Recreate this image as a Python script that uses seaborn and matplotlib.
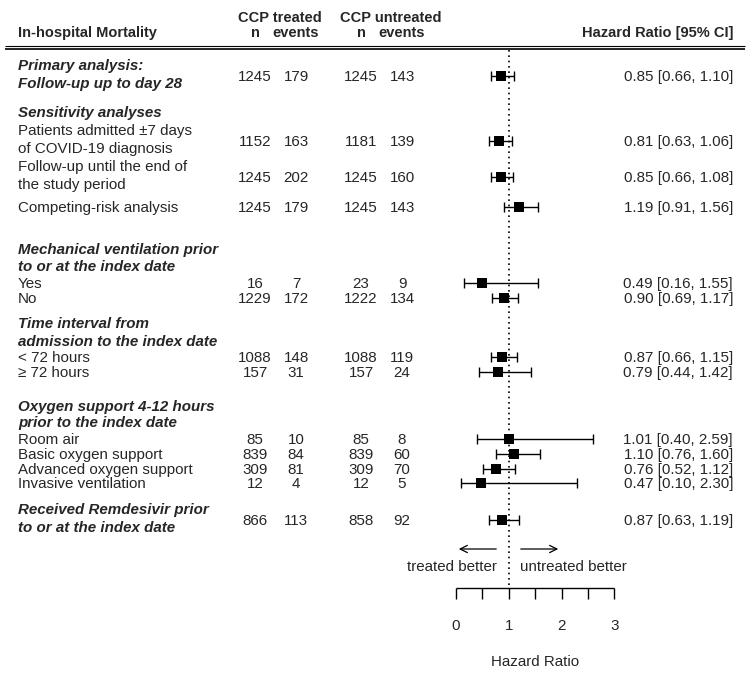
import numpy as np
import matplotlib
matplotlib.use("Agg")
import matplotlib.pyplot as plt
from matplotlib import font_manager
import seaborn as sns

# hazard ratios with 95% CI, one per row of the forest plot
hr = [0.85, 0.81, 0.85, 1.19, 0.49, 0.90, 0.87, 0.79, 1.01, 1.10, 0.76, 0.47, 0.87]
ci_low = [0.66, 0.63, 0.66, 0.91, 0.16, 0.69, 0.66, 0.44, 0.40, 0.76, 0.52, 0.10, 0.63]
ci_high = [1.10, 1.06, 1.08, 1.56, 1.55, 1.17, 1.15, 1.42, 2.59, 1.60, 1.12, 2.30, 1.19]

# counts per group
n_treated = [1245, 1152, 1245, 1245, 16, 1229, 1088, 157, 85, 839, 309, 12, 866]
events_treated = [179, 163, 202, 179, 7, 172, 148, 31, 10, 84, 81, 4, 113]
n_untreated = [1245, 1181, 1245, 1245, 23, 1222, 1088, 157, 85, 839, 309, 12, 858]
events_untreated = [143, 139, 160, 143, 9, 134, 119, 24, 8, 60, 70, 5, 92]

row_labels = [
    "Primary analysis:\nFollow-up up to day 28",
    "Patients admitted \u00b17 days\nof COVID-19 diagnosis",
    "Follow-up until the end of\nthe study period",
    "Competing-risk analysis",
    "Yes",
    "No",
    "< 72 hours",
    "\u2265 72 hours",
    "Room air",
    "Basic oxygen support",
    "Advanced oxygen support",
    "Invasive ventilation",
    "Received Remdesivir prior\nto or at the index date",
]
heading_rows = [0, 12]  # rows whose own label is a heading

section_labels = [
    "Sensitivity analyses",
    "Mechanical ventilation prior\nto or at the index date",
    "Time interval from\nadmission to the index date",
    "Oxygen support 4-12 hours\nprior to the index date",
]

hr_ticks = [0, 0.5, 1, 1.5, 2, 2.5, 3]
hr_ticklabels = [0, 1, 2, 3]

# layout (pixels from top of the 750x679 figure)
row_y = [77, 142, 178, 208, 284, 299, 358, 373, 440, 455, 470, 484, 521]
section_y = [113, 258.5, 333, 415]
X0, PX = 456, 52.8   # pixel of HR=0 and pixels per HR unit


def px(x):
    return (x - X0) / PX


sns.set_style("white")
plt.rcParams['font.family'] = ['Liberation Sans', 'DejaVu Sans']
FS = 10.9

names = {f.name for f in font_manager.fontManager.ttflist}
if 'Liberation Sans Narrow' in names:
    head_font = dict(family=['Liberation Sans Narrow', 'Liberation Sans'], fontsize=12.5, fontweight='bold')
else:
    head_font = dict(family=['Liberation Sans', 'DejaVu Sans'], fontsize=10.5, fontweight='bold')

fig = plt.figure(figsize=(7.5, 6.79), dpi=100)
ax = fig.add_axes([0, 0, 1, 1])


def multiline(x, y, text, gap=18, **kw):
    lines = text.split("\n")
    start = y - gap * (len(lines) - 1) / 2
    for i, line in enumerate(lines):
        ax.text(x, start + i * gap, line, va='center', **kw)


# header
ax.text(px(18), 33, "In-hospital Mortality", ha='left', va='center', **head_font)
ax.text(px(280), 18, "CCP treated", ha='center', va='center', **head_font)
ax.text(px(255), 33, "n", ha='center', va='center', **head_font)
ax.text(px(296), 33, "events", ha='center', va='center', **head_font)
ax.text(px(391), 18, "CCP untreated", ha='center', va='center', **head_font)
ax.text(px(361), 33, "n", ha='center', va='center', **head_font)
ax.text(px(402), 33, "events", ha='center', va='center', **head_font)
ax.text(px(733), 33, "Hazard Ratio [95% CI]", ha='right', va='center', **head_font)
ax.hlines([46, 48.5], px(5), px(745), color='black', lw=[0.8, 1.2])

# left column labels
for i, (lab, y) in enumerate(zip(row_labels, row_y)):
    style = dict(fontweight='bold', fontstyle='italic') if i in heading_rows else {}
    shift = -2 if "\n" in lab else 0
    multiline(px(18), y + shift, lab, ha='left', fontsize=FS, **style)
for lab, y in zip(section_labels, section_y):
    multiline(px(18), y, lab, gap=17, ha='left', fontsize=FS, fontweight='bold', fontstyle='italic')

# count columns
for col_x, vals in zip([255, 296, 361, 402], [n_treated, events_treated, n_untreated, events_untreated]):
    for v, y in zip(vals, row_y):
        ax.text(px(col_x), y, str(v), ha='center', va='center', fontsize=FS)

# estimate text
for h, lo, hi, y in zip(hr, ci_low, ci_high, row_y):
    ax.text(px(733), y, f"{h:.2f} [{lo:.2f}, {hi:.2f}]", ha='right', va='center', fontsize=FS)

# reference line at HR = 1
ax.vlines(1, 50, 588, color='black', lw=1.2, linestyles=(0, (1, 2.2)))

# confidence intervals and point estimates
point_y = np.subtract(row_y, 1)
ax.errorbar(hr, point_y, xerr=[np.subtract(hr, ci_low), np.subtract(ci_high, hr)],
            fmt='none', ecolor='black', elinewidth=1, capsize=3.5, capthick=1, zorder=2)
sns.scatterplot(x=hr, y=point_y, marker='s', color='black', s=42, linewidth=0, ax=ax, zorder=3)

# direction arrows
ax.annotate("", xy=(px(456), 549), xytext=(px(499), 549),
            arrowprops=dict(arrowstyle='->', color='black', lw=0.9, mutation_scale=13))
ax.annotate("", xy=(px(561), 549), xytext=(px(518), 549),
            arrowprops=dict(arrowstyle='->', color='black', lw=0.9, mutation_scale=13))
ax.text(px(497), 567, "treated better", ha='right', va='center', fontsize=FS)
ax.text(px(520), 567, "untreated better", ha='left', va='center', fontsize=FS)

# x axis
ax.hlines(588, hr_ticks[0], hr_ticks[-1], color='black', lw=1)
ax.vlines(hr_ticks, 588, 599, color='black', lw=1)
for t in hr_ticklabels:
    ax.text(t, 626, str(t), ha='center', va='center', fontsize=FS)
ax.text(1.5, 662, "Hazard Ratio", ha='center', va='center', fontsize=FS)

ax.set_xlim(px(0), px(750))
ax.set_ylim(679, 0)
ax.axis('off')

fig.savefig("out.png", dpi=100)
